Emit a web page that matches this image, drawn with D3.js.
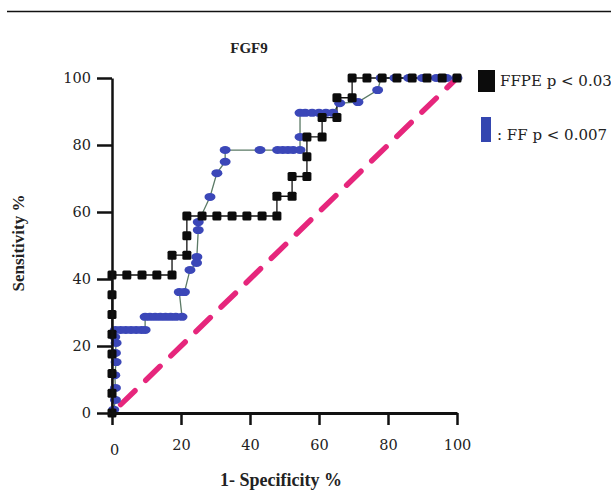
<!DOCTYPE html>
<html>
<head>
<meta charset="utf-8">
<script src="https://cdn.jsdelivr.net/npm/d3@7"></script>
<style>
  body { margin: 0; background: #fff; }
  svg { display: block; }
</style>
</head>
<body>
<div id="chart"></div>
<script>
// tick labels
var xTicks = [0, 20, 40, 60, 80, 100];
var yTicks = [0, 20, 40, 60, 80, 100];

// FFPE curve (1 - specificity %, sensitivity %)
var ffpeX = [0, 0, 0, 0, 0, 0, 0, 0, 4.3, 8.7, 13, 17.4, 17.4, 21.7, 21.7, 21.7,
  26.1, 30.4, 34.8, 39.1, 43.5, 47.8, 47.8, 52.2, 52.2, 56.5, 56.5, 56.5, 60.9, 60.9,
  65.2, 65.2, 69.6, 69.6, 73.9, 78.3, 82.6, 87, 91.3, 95.7, 100];
var ffpeY = [0, 5.9, 11.8, 17.6, 23.5, 29.4, 35.3, 41.2, 41.2, 41.2, 41.2, 41.2, 47.1, 47.1, 52.9, 58.8,
  58.8, 58.8, 58.8, 58.8, 58.8, 58.8, 64.7, 64.7, 70.6, 70.6, 76.5, 82.4, 82.4, 88.2,
  88.2, 94.1, 94.1, 100, 100, 100, 100, 100, 100, 100, 100];

// FF curve
var ffX = [0.5, 1, 1, 0.8, 1.2, 1, 1.2, 0.8, 1, 2.5, 4, 5.5, 7, 8.5, 9.6,
  9.6, 11, 12.5, 14, 15.5, 17, 18.5, 20.3, 19.5, 21, 22.6, 24.5, 24.6, 25, 25,
  28.4, 30.4, 32.8, 32.8, 42.9, 48, 49.5, 51, 52.5, 54.5, 54.5, 54.5, 56, 58, 60, 62, 64, 66,
  71.3, 77, 78, 82, 86, 90, 94, 97, 100];
var ffY = [1, 3.9, 7.5, 11.3, 15.2, 17.9, 20.9, 22.7, 24.8, 24.8, 24.8, 24.8, 24.8, 24.8, 24.8,
  28.7, 28.7, 28.7, 28.7, 28.7, 28.7, 28.7, 28.7, 36.1, 36.1, 42.7, 44.8, 46.6, 54.6, 57,
  64.5, 71.6, 75, 78.5, 78.5, 78.5, 78.5, 78.5, 78.5, 78.5, 82.4, 89.6, 89.6, 89.6, 89.6, 89.6, 89.6, 92.5,
  92.8, 96.4, 100, 100, 100, 100, 100, 100, 100];

var legendLabels = ['FFPE p < 0.03', ': FF p < 0.007'];

var width = 611, height = 490;
var serif = "'DejaVu Serif', serif";
var boldSerif = "'Liberation Serif', serif";

var svg = d3.select('#chart').append('svg')
    .attr('width', width)
    .attr('height', height);

// top rule
svg.append('line')
    .attr('x1', 7).attr('x2', width)
    .attr('y1', 11.5).attr('y2', 11.5)
    .attr('stroke', '#111')
    .attr('stroke-width', 1.6);

// scales
var x = d3.scaleLinear().domain([0, 100]).range([112, 457]);
var y = d3.scaleLinear().domain([0, 100]).range([413, 78]);

// diagonal reference line
svg.append('line')
    .attr('x1', x(2.5)).attr('y1', y(2.5))
    .attr('x2', x(100)).attr('y2', y(100))
    .attr('stroke', '#e6267c')
    .attr('stroke-width', 5.5)
    .attr('stroke-linecap', 'round')
    .attr('stroke-dasharray', '20 15');

function toPoints(xs, ys) {
  return xs.map(function(d, i) { return [d, ys[i]]; });
}
var ffpe = toPoints(ffpeX, ffpeY);
var ff = toPoints(ffX, ffY);

var line = d3.line()
    .x(function(d) { return x(d[0]); })
    .y(function(d) { return y(d[1]); });

// connecting lines
svg.append('path')
    .attr('d', line(ff))
    .attr('fill', 'none')
    .attr('stroke', '#5b7a66')
    .attr('stroke-width', 1.3);

svg.append('path')
    .attr('d', line(ffpe))
    .attr('fill', 'none')
    .attr('stroke', '#111')
    .attr('stroke-width', 1.3);

// FF markers
svg.selectAll('ellipse.ff')
    .data(ff)
  .enter().append('ellipse')
    .attr('class', 'ff')
    .attr('cx', function(d) { return x(d[0]); })
    .attr('cy', function(d) { return y(d[1]); })
    .attr('rx', 5.5)
    .attr('ry', 4)
    .attr('fill', '#3b47b8');

// FFPE markers on top
svg.selectAll('rect.ffpe')
    .data(ffpe)
  .enter().append('rect')
    .attr('class', 'ffpe')
    .attr('x', function(d) { return x(d[0]) - 4.5; })
    .attr('y', function(d) { return y(d[1]) - 4.5; })
    .attr('width', 9)
    .attr('height', 9)
    .attr('rx', 1.5)
    .attr('fill', '#0c0c0c');

// axes
var yAxis = d3.axisLeft(y).tickValues(yTicks).tickSize(15).tickSizeOuter(0).tickPadding(6);
var xAxis = d3.axisBottom(x).tickValues(xTicks).tickSize(12).tickSizeOuter(0).tickPadding(15);

var gy = svg.append('g')
    .attr('transform', 'translate(' + x(0) + ',0)')
    .call(yAxis);
var gx = svg.append('g')
    .attr('transform', 'translate(0,' + y(0) + ')')
    .call(xAxis);

[gx, gy].forEach(function(g) {
  g.selectAll('path, line').attr('stroke', '#111').attr('stroke-width', 2.5);
  g.selectAll('text')
    .attr('font-family', serif)
    .attr('font-size', '14.5px')
    .attr('fill', '#222');
});
gx.select('path').attr('stroke-width', 3);

// the "0" on the x axis sits a little lower and to the right
gx.selectAll('.tick text')
    .filter(function(d) { return d === 0; })
    .attr('dx', 2)
    .attr('dy', '1.05em');

// title
svg.append('text')
    .attr('x', 249).attr('y', 53)
    .attr('text-anchor', 'middle')
    .attr('font-family', boldSerif)
    .attr('font-weight', 'bold')
    .attr('font-size', '15px')
    .attr('fill', '#222')
    .text('FGF9');

// axis titles
svg.append('text')
    .attr('x', 281).attr('y', 486)
    .attr('text-anchor', 'middle')
    .attr('font-family', boldSerif)
    .attr('font-weight', 'bold')
    .attr('font-size', '18px')
    .attr('fill', '#222')
    .text('1- Specificity %');

svg.append('text')
    .attr('transform', 'translate(24,243) rotate(-90)')
    .attr('text-anchor', 'middle')
    .attr('font-family', boldSerif)
    .attr('font-weight', 'bold')
    .attr('font-size', '17px')
    .attr('fill', '#222')
    .text('Sensitivity %');

// legend
var legend = svg.append('g');
legend.append('rect')
    .attr('x', 478).attr('y', 70)
    .attr('width', 17).attr('height', 22)
    .attr('fill', '#0c0c0c');
legend.append('rect')
    .attr('x', 481).attr('y', 117)
    .attr('width', 10).attr('height', 25)
    .attr('fill', '#3446b0');
legend.selectAll('text')
    .data(legendLabels)
  .enter().append('text')
    .attr('x', function(d, i) { return i === 0 ? 500 : 497; })
    .attr('y', function(d, i) { return i === 0 ? 86 : 140; })
    .attr('font-family', serif)
    .attr('font-size', '15px')
    .attr('fill', '#222')
    .text(function(d) { return d; });
</script>
</body>
</html>
